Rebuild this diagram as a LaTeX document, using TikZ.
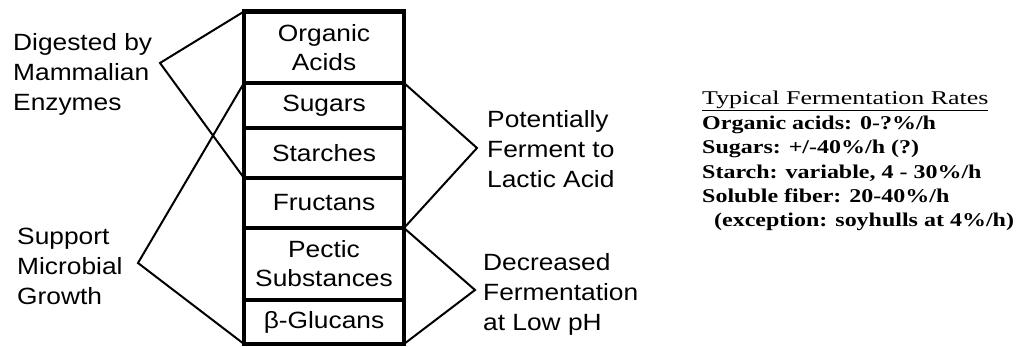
\documentclass[tikz,border=0pt]{standalone}
\usepackage{graphicx}
\usepackage{fontspec}
\setmainfont{Liberation Serif}
\newfontfamily\labelfont{Liberation Sans}
\newcommand\wide[1]{\scalebox{1.12}[1]{#1}}
\newcommand\ratew[1]{\scalebox{1.23}[1]{#1}}
\newcommand\titlew[1]{\scalebox{1.33}[1]{#1}}

\begin{document}
\begin{tikzpicture}[x=1pt,y=-1pt,
    cell/.style={draw,line width=4.5pt,minimum width=160pt,inner sep=0pt,outer sep=0pt,
      anchor=north,align=center,font=\labelfont\fontsize{23.5}{29}\selectfont},
    bracket/.style={line width=2pt,line join=miter},
    side/.style={anchor=north west,inner sep=0pt,align=left,font=\labelfont\fontsize{23.5}{30}\selectfont},
    rate/.style={anchor=base west,inner sep=0pt,font=\bfseries\fontsize{19.5}{25}\selectfont}]
  \useasboundingbox (0,0) rectangle (1018,347);

  % column of cells
  \node[cell,minimum height=71.5pt] (oa) at (324,11.5) {\wide{Organic}\\\wide{Acids}};
  \node[cell,minimum height=45pt] (sug) at (oa.south) {\wide{Sugars}};
  \node[cell,minimum height=50pt] (sta) at (sug.south) {\wide{Starches}};
  \node[cell,minimum height=50pt] (fru) at (sta.south) {\wide{Fructans}};
  \node[cell,minimum height=72pt] (pec) at (fru.south) {\wide{Pectic}\\\wide{Substances}};
  \node[cell,minimum height=44pt] (glu) at (pec.south) {\wide{β-Glucans}};

  % bracket tips
  \coordinate (dig) at (160,63);
  \coordinate (sup) at (138,263);
  \coordinate (lac) at (477,148);
  \coordinate (dec) at (475,290);

  \draw[bracket] (oa.north west)--(dig)--(sta.south west);
  \draw[bracket] (sug.north west)--(sup)--(glu.south west);
  \draw[bracket] (sug.north east)--(lac)--(fru.south east);
  \draw[bracket] (pec.north east)--(dec)--(glu.south east);

  \node[side] (digt) at (13,33) {\wide{Digested by}\\\wide{Mammalian}\\\wide{Enzymes}};
  \node[side] (supt) at (17,228) {\wide{Support}\\\wide{Microbial}\\\wide{Growth}};
  \node[side] (lact) at (487,110) {\wide{Potentially}\\\wide{Ferment to}\\\wide{Lactic Acid}};
  \node[side] (dect) at (483,253) {\wide{Decreased}\\\wide{Fermentation}\\\wide{at Low pH}};

  % rates
  \node[rate,font=\fontsize{19.5}{25}\selectfont] (ttl) at (702,105) {\titlew{\underline{Typical Fermentation Rates}}};
  \node[rate] (r1) at (702,130) {\ratew{Organic acids: 0-?\%/h}};
  \node[rate] (r2) at (702,154) {\ratew{Sugars: +/-40\%/h (?)}};
  \node[rate] (r3) at (702,179) {\ratew{Starch: variable, 4 - 30\%/h}};
  \node[rate] (r4) at (702,203) {\ratew{Soluble fiber: 20-40\%/h}};
  \node[rate] (r5) at (714,227) {\ratew{(exception: soyhulls at 4\%/h)}};
\end{tikzpicture}
\end{document}
